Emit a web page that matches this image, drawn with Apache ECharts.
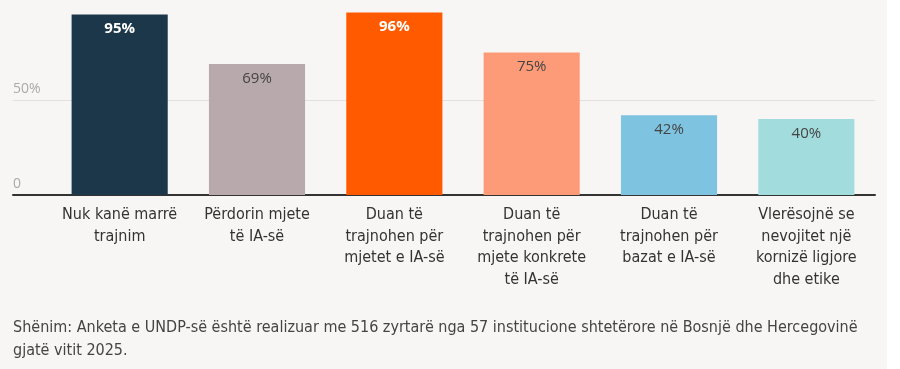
<!DOCTYPE html>
<html>
<head>
<meta charset="utf-8">
<script src="https://cdn.jsdelivr.net/npm/echarts@6/dist/echarts.min.js"></script>
<style>
  html, body { margin: 0; padding: 0; background: #ffffff; }
  #chart { width: 887px; height: 369px; background: #f8f6f5; }
</style>
</head>
<body>
<div id="chart"></div>
<script>
const categories = [
  "Nuk kanë marrë\ntrajnim",
  "Përdorin mjete\ntë IA-së",
  "Duan të\ntrajnohen për\nmjetet e IA-së",
  "Duan të\ntrajnohen për\nmjete konkrete\ntë IA-së",
  "Duan të\ntrajnohen për\nbazat e IA-së",
  "Vlerësojnë se\nnevojitet një\nkornizë ligjore\ndhe etike"
]
const values = [95, 69, 96, 75, 42, 40]
const barColors = ["#1c3749", "#b8a9ad", "#ff5a00", "#fd9a78", "#7ec3e0", "#a3dcdd"]
const boldLabel = [true, false, true, false, false, false]
const yTicks = [0, 50]
const note = "Shënim: Anketa e UNDP-së është realizuar me 516 zyrtarë nga 57 institucione shtetërore në Bosnjë dhe Hercegovinë\ngjatë vitit 2025."

const condensed = '"Liberation Sans Narrow", "DejaVu Sans Condensed", sans-serif'

const myChart = echarts.init(document.getElementById("chart"))

const option = {
  animation: false,
  title: {
    text: note,
    left: 13,
    top: 316,
    padding: 0,
    textStyle: {
      fontFamily: condensed,
      fontSize: 16,
      fontWeight: "normal",
      color: "#444",
      lineHeight: 23
    }
  },
  grid: [
    { left: 13, right: 12, top: 5, bottom: 174 },
    { left: 51, right: 12, top: 5, bottom: 174 }
  ],
  xAxis: [
    {
      gridIndex: 0,
      type: "value",
      min: 0,
      max: 1,
      axisLine: { show: true, onZero: false, lineStyle: { color: "#333", width: 2 } },
      axisTick: { show: false },
      axisLabel: { show: false },
      splitLine: { show: false }
    },
    {
      gridIndex: 1,
      type: "category",
      data: categories,
      axisLine: { show: false },
      axisTick: { show: false },
      axisLabel: {
        interval: 0,
        margin: 9,
        fontFamily: condensed,
        fontSize: 16,
        lineHeight: 21.7,
        color: "#333"
      }
    }
  ],
  yAxis: [
    {
      gridIndex: 0,
      type: "value",
      min: 0,
      max: 100,
      interval: 50,
      axisLine: { show: false },
      axisTick: { show: false },
      splitLine: { show: true, showMinLine: false, showMaxLine: false, lineStyle: { color: "#e2dfde", width: 1 } },
      axisLabel: {
        inside: true,
        margin: 0,
        verticalAlign: "bottom",
        showMaxLabel: false,
        padding: [0, 0, 4, 0],
        fontFamily: '"Open Sans", sans-serif',
        fontSize: 14,
        color: "#aaa",
        formatter: v => (yTicks.includes(v) ? (v === 0 ? "0" : v + "%") : "")
      }
    },
    {
      gridIndex: 1,
      type: "value",
      min: 0,
      max: 100,
      show: false
    }
  ],
  series: [
    {
      type: "bar",
      xAxisIndex: 1,
      yAxisIndex: 1,
      barCategoryGap: "30%",
      data: values.map((v, i) => ({
        value: v,
        itemStyle: { color: barColors[i] },
        label: {
          color: boldLabel[i] ? "#fff" : "#444",
          fontWeight: boldLabel[i] ? "bold" : "normal"
        }
      })),
      label: {
        show: true,
        position: "insideTop",
        distance: 7,
        fontFamily: '"Open Sans", sans-serif',
        fontSize: 15,
        formatter: p => p.value + "%"
      }
    }
  ]
}

myChart.setOption(option)
window.addEventListener("resize", function () {
  myChart.resize()
})
</script>
</body>
</html>
